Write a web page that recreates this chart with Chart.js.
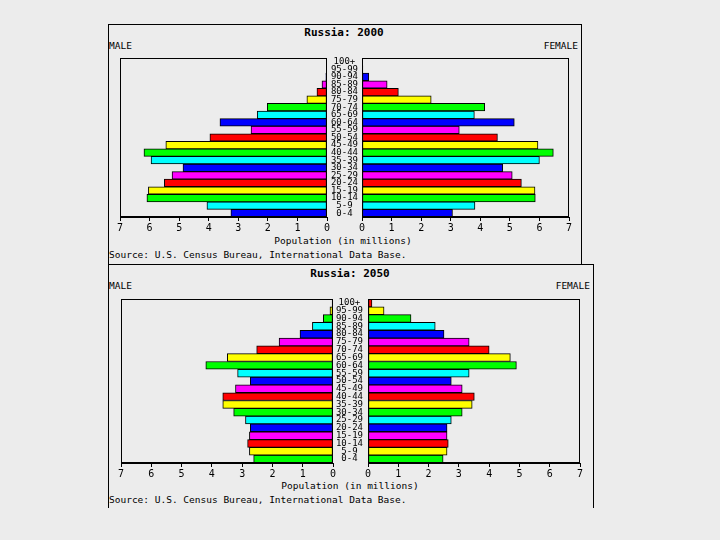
<!DOCTYPE html>
<html>
<head>
<meta charset="utf-8">
<script src="https://cdn.jsdelivr.net/npm/chart.js@4.4.0/dist/chart.umd.min.js"></script>
<style>
body { margin: 0; background: #ececec; }
#page { position: relative; width: 720px; height: 540px; background: #ececec; font-family: "DejaVu Sans Mono", monospace; color: #000; overflow: hidden; }
.frame { position: absolute; border: 1px solid #000; border-bottom: none; }
.txt { position: absolute; font-size: 9.5px; line-height: 12px; white-space: nowrap; }
.mid { transform: translateX(-50%); }
.title { font-weight: bold; font-size: 11px; }
canvas { position: absolute; }
</style>
</head>
<body>
<div id="page">
  <div class="frame" style="left:108px; top:24px; width:472px; height:240px;"></div>
  <div class="frame" style="left:108px; top:264px; width:484px; height:243px;"></div>

  <div class="txt title mid" style="left:344px; top:27px;">Russia: 2000</div>
  <div class="txt" style="left:109px; top:40px;">MALE</div>
  <div class="txt" style="right:142px; top:40px;">FEMALE</div>
  <div class="txt mid" style="left:343px; top:235px;">Population (in millions)</div>
  <div class="txt" style="left:109px; top:249px;">Source: U.S. Census Bureau, International Data Base.</div>

  <div class="txt title mid" style="left:350px; top:268px;">Russia: 2050</div>
  <div class="txt" style="left:109px; top:280px;">MALE</div>
  <div class="txt" style="right:130px; top:280px;">FEMALE</div>
  <div class="txt mid" style="left:350px; top:480px;">Population (in millions)</div>
  <div class="txt" style="left:109px; top:494px;">Source: U.S. Census Bureau, International Data Base.</div>

  <canvas id="male2000"></canvas>
  <canvas id="female2000"></canvas>
  <canvas id="male2050"></canvas>
  <canvas id="female2050"></canvas>
</div>

<script>
// age groups, bottom to top
var ageGroups = ["0-4", "5-9", "10-14", "15-19", "20-24", "25-29", "30-34", "35-39",
    "40-44", "45-49", "50-54", "55-59", "60-64", "65-69", "70-74", "75-79",
    "80-84", "85-89", "90-94", "95-99", "100+"];

// population in millions
var male2000 = [3.25, 4.06, 6.09, 6.04, 5.50, 5.24, 4.87, 5.95, 6.19, 5.45, 3.96,
    2.57, 3.62, 2.36, 2.02, 0.68, 0.34, 0.17, 0.04, 0.01, 0];
var female2000 = [3.06, 3.82, 5.86, 5.85, 5.39, 5.08, 4.76, 6.00, 6.47, 5.95, 4.58,
    3.29, 5.15, 3.80, 4.15, 2.34, 1.23, 0.85, 0.23, 0.03, 0.005];
var male2050 = [2.62, 2.76, 2.82, 2.76, 2.73, 2.89, 3.28, 3.64, 3.64, 3.22, 2.73,
    3.15, 4.20, 3.49, 2.52, 1.78, 1.09, 0.68, 0.32, 0.10, 0.03];
var female2050 = [2.48, 2.61, 2.65, 2.61, 2.61, 2.75, 3.11, 3.44, 3.51, 3.11, 2.75,
    3.34, 4.90, 4.70, 4.00, 3.34, 2.51, 2.22, 1.42, 0.53, 0.13];

var xTicks = [0, 1, 2, 3, 4, 5, 6, 7];

var colors2000 = ["#0000ff", "#00ffff", "#00ff00", "#ffff00", "#ff0000", "#ff00ff"];
var colors2050 = ["#00ff00", "#ffff00", "#ff0000", "#ff00ff", "#0000ff", "#00ffff"];

var framePlugin = {
    id: "frame",
    afterDatasetsDraw(chart) {
        var a = chart.chartArea, c = chart.ctx;
        c.save();
        c.strokeStyle = "#000";
        c.lineWidth = 1;
        c.strokeRect(Math.round(a.left) + 0.5, Math.round(a.top) + 0.5,
            Math.round(a.right - a.left) - 1, Math.round(a.bottom - a.top) - 1);
        c.restore();
    }
};

function cycle(list, n) {
    var out = [];
    for (var i = 0; i < n; i++) out.push(list[i % list.length]);
    return out;
}

// box = plot area {x0, x1, y0, y1}; male panel has a reversed axis, female panel carries the age labels
function makePanel(id, values, colors, box, isMale, gap, labelPad) {
    var cv = document.getElementById(id);
    var padL = 10, padT = 14;
    var yW = isMale ? 0 : gap;
    var left = box.x0 - padL - yW;
    var w = padL + yW + (box.x1 - box.x0) + 10;
    var h = padT + (box.y1 - box.y0) + 22;
    cv.width = w;
    cv.height = h;
    cv.style.left = left + "px";
    cv.style.top = (box.y0 - padT) + "px";

    return new Chart(cv, {
        type: "bar",
        data: {
            labels: ageGroups,
            datasets: [{
                data: values,
                backgroundColor: cycle(colors, values.length),
                borderColor: "#000",
                borderWidth: 1,
                borderSkipped: false,
                barPercentage: 1,
                categoryPercentage: 1
            }]
        },
        options: {
            indexAxis: "y",
            responsive: false,
            animation: false,
            devicePixelRatio: 1,
            layout: { padding: { left: padL, right: 10, top: padT, bottom: 0 } },
            plugins: { legend: { display: false }, tooltip: { enabled: false } },
            scales: {
                x: {
                    min: 0,
                    max: 7,
                    reverse: isMale,
                    afterBuildTicks: s => { s.ticks = xTicks.map(v => ({ value: v })); },
                    afterFit: s => { s.height = 22; },
                    border: { display: true, color: "#000", width: 1 },
                    grid: { display: true, drawOnChartArea: false, drawTicks: true, tickLength: 4, color: "#000" },
                    ticks: {
                        color: "#000",
                        padding: 1,
                        maxRotation: 0,
                        font: { family: "DejaVu Sans Mono", size: 10 }
                    }
                },
                y: {
                    display: !isMale,
                    reverse: true,
                    position: "left",
                    afterFit: s => { s.width = yW; },
                    border: { display: false },
                    grid: { display: false, drawTicks: false },
                    ticks: {
                        autoSkip: false,
                        color: "#000",
                        padding: labelPad,
                        crossAlign: "center",
                        font: { family: "DejaVu Sans Mono", size: 9 }
                    }
                }
            }
        },
        plugins: [framePlugin]
    });
}

makePanel("male2000", male2000, colors2000, { x0: 120, x1: 327, y0: 58, y1: 217 }, true, 0, 0);
makePanel("female2000", female2000, colors2000, { x0: 362, x1: 569, y0: 58, y1: 217 }, false, 35, 4);
makePanel("male2050", male2050, colors2050, { x0: 121, x1: 333, y0: 299, y1: 463 }, true, 0, 0);
makePanel("female2050", female2050, colors2050, { x0: 368, x1: 580, y0: 299, y1: 463 }, false, 35, 5);
</script>
</body>
</html>
